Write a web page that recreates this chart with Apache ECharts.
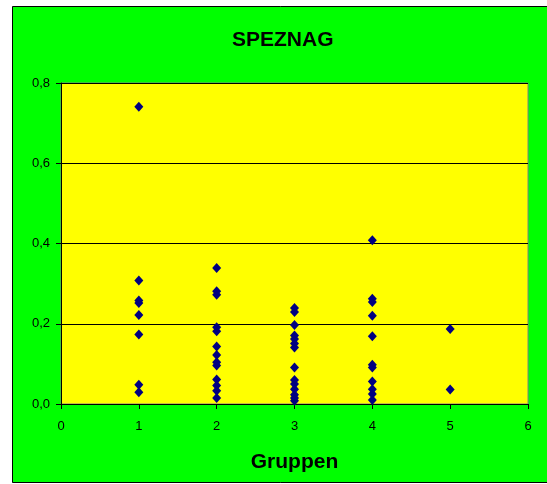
<!DOCTYPE html>
<html>
<head>
<meta charset="utf-8">
<script src="https://cdn.jsdelivr.net/npm/echarts@6/dist/echarts.min.js"></script>
<style>
  html, body { margin: 0; padding: 0; background: #fff; }
  #chart { width: 547px; height: 484px; }
</style>
</head>
<body>
<div id="chart"></div>
<script>
// SPEZNAG values per group
var gruppe1 = [0.741, 0.308, 0.258, 0.252, 0.222, 0.173, 0.048, 0.029];
var gruppe2 = [0.339, 0.281, 0.272, 0.191, 0.181, 0.143, 0.122, 0.104, 0.096, 0.061, 0.046, 0.033, 0.015];
var gruppe3 = [0.239, 0.229, 0.197, 0.171, 0.162, 0.151, 0.141, 0.091, 0.060, 0.050, 0.037, 0.023, 0.015, 0.008];
var gruppe4 = [0.408, 0.262, 0.254, 0.220, 0.169, 0.098, 0.091, 0.056, 0.037, 0.025, 0.010];
var gruppe5 = [0.187, 0.036];
var groups = [gruppe1, gruppe2, gruppe3, gruppe4, gruppe5];

var points = [];
groups.forEach(function (vals, i) {
    vals.forEach(function (v) { points.push([i + 1, v]); });
});

var font = 'Arial, "Liberation Sans", sans-serif';
var chart = echarts.init(document.getElementById('chart'));

chart.setOption({
    animation: false,
    backgroundColor: '#ffffff',
    textStyle: { fontFamily: font },
    graphic: [{
        type: 'rect',
        z: -10,
        shape: { x: 12.5, y: 6.5, width: 540, height: 476 },
        style: { fill: '#00ff00', stroke: '#000', lineWidth: 1 }
    }],
    title: {
        text: 'SPEZNAG',
        left: 232,
        top: 30,
        padding: 0,
        textStyle: { fontSize: 21, fontWeight: 'bold', color: '#000', fontFamily: font }
    },
    grid: {
        left: 61, right: 19, top: 83, bottom: 80,
        show: true,
        backgroundColor: '#ffff00',
        borderColor: '#808080',
        borderWidth: 1
    },
    xAxis: {
        type: 'value',
        min: 0, max: 6, interval: 1,
        name: 'Gruppen',
        nameLocation: 'middle',
        nameGap: 48,
        nameTextStyle: { fontSize: 21, fontWeight: 'bold', color: '#000', fontFamily: font },
        axisLine: { show: true, onZero: false, lineStyle: { color: '#000', width: 1 } },
        axisTick: { show: true, length: 5, lineStyle: { color: '#000' } },
        axisLabel: { color: '#000', fontSize: 13, margin: 16 },
        splitLine: { show: false }
    },
    yAxis: {
        type: 'value',
        min: 0, max: 0.8, interval: 0.2,
        axisLine: { show: true, lineStyle: { color: '#000', width: 1 } },
        axisTick: { show: true, length: 5, lineStyle: { color: '#000' } },
        axisLabel: {
            color: '#000', fontSize: 13, margin: 11,
            formatter: function (v) { return v.toFixed(1).replace('.', ','); }
        },
        splitLine: { show: true, lineStyle: { color: '#000', width: 1 } }
    },
    series: [{
        type: 'scatter',
        data: points,
        symbol: 'diamond',
        symbolSize: [9, 10],
        itemStyle: { color: '#000080', opacity: 1 }
    }]
});
</script>
</body>
</html>
